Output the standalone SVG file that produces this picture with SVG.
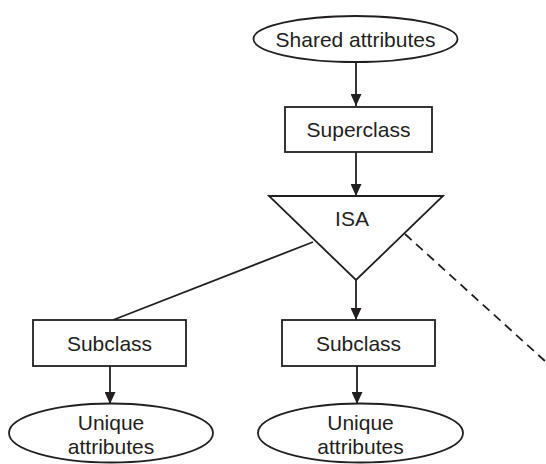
<svg xmlns="http://www.w3.org/2000/svg" width="546" height="464" viewBox="0 0 546 464">
<defs>
<marker id="ah" viewBox="0 0 12 11" refX="12" refY="5.5" markerWidth="12" markerHeight="11" markerUnits="userSpaceOnUse" orient="auto">
<path d="M0,0 L12,5.5 L0,11 Z" fill="#231f20"/>
</marker>
<style>
.s{fill:#fff;stroke:#231f20;stroke-width:1.8}
.t{font-family:"Liberation Sans",Arial,sans-serif;font-size:21px;fill:#231f20;text-anchor:middle}
.c{stroke:#231f20;stroke-width:1.8;fill:none}
</style>
</defs>
<rect width="546" height="464" fill="#fff"/>
<g id="connectors">
<line class="c" x1="356" y1="62" x2="356" y2="106" marker-end="url(#ah)"/>
<line class="c" x1="356" y1="152" x2="356" y2="196" marker-end="url(#ah)"/>
<line class="c" x1="356" y1="280" x2="356" y2="320" marker-end="url(#ah)"/>
<line class="c" x1="313" y1="242" x2="113" y2="320"/>
<line class="c" x1="405" y1="234" x2="546" y2="362" stroke-dasharray="9,6"/>
<line class="c" x1="110" y1="366" x2="110" y2="404" marker-end="url(#ah)"/>
<line class="c" x1="357" y1="366" x2="357" y2="404" marker-end="url(#ah)"/>
</g>
<g id="shared">
<ellipse class="s" cx="355.5" cy="39" rx="102" ry="23"/>
<text class="t" x="355.5" y="46.5">Shared attributes</text>
</g>
<g id="superclass">
<rect class="s" x="285" y="107" width="147" height="45"/>
<text class="t" x="358.5" y="137">Superclass</text>
</g>
<g id="isa">
<path class="s" d="M269,196 L443,196 L356,280 Z"/>
<text class="t" x="352" y="226">ISA</text>
</g>
<g id="subclass1">
<rect class="s" x="33" y="320" width="153" height="46"/>
<text class="t" x="109.5" y="350.5">Subclass</text>
</g>
<g id="subclass2">
<rect class="s" x="282" y="320" width="153" height="46"/>
<text class="t" x="358.5" y="350.5">Subclass</text>
</g>
<g id="unique1">
<ellipse class="s" cx="111" cy="433" rx="102" ry="29.5"/>
<text class="t" x="111" y="430">Unique</text>
<text class="t" x="111" y="454">attributes</text>
</g>
<g id="unique2">
<ellipse class="s" cx="360.5" cy="433" rx="102.5" ry="29.5"/>
<text class="t" x="360.5" y="430">Unique</text>
<text class="t" x="360.5" y="454">attributes</text>
</g>
</svg>
